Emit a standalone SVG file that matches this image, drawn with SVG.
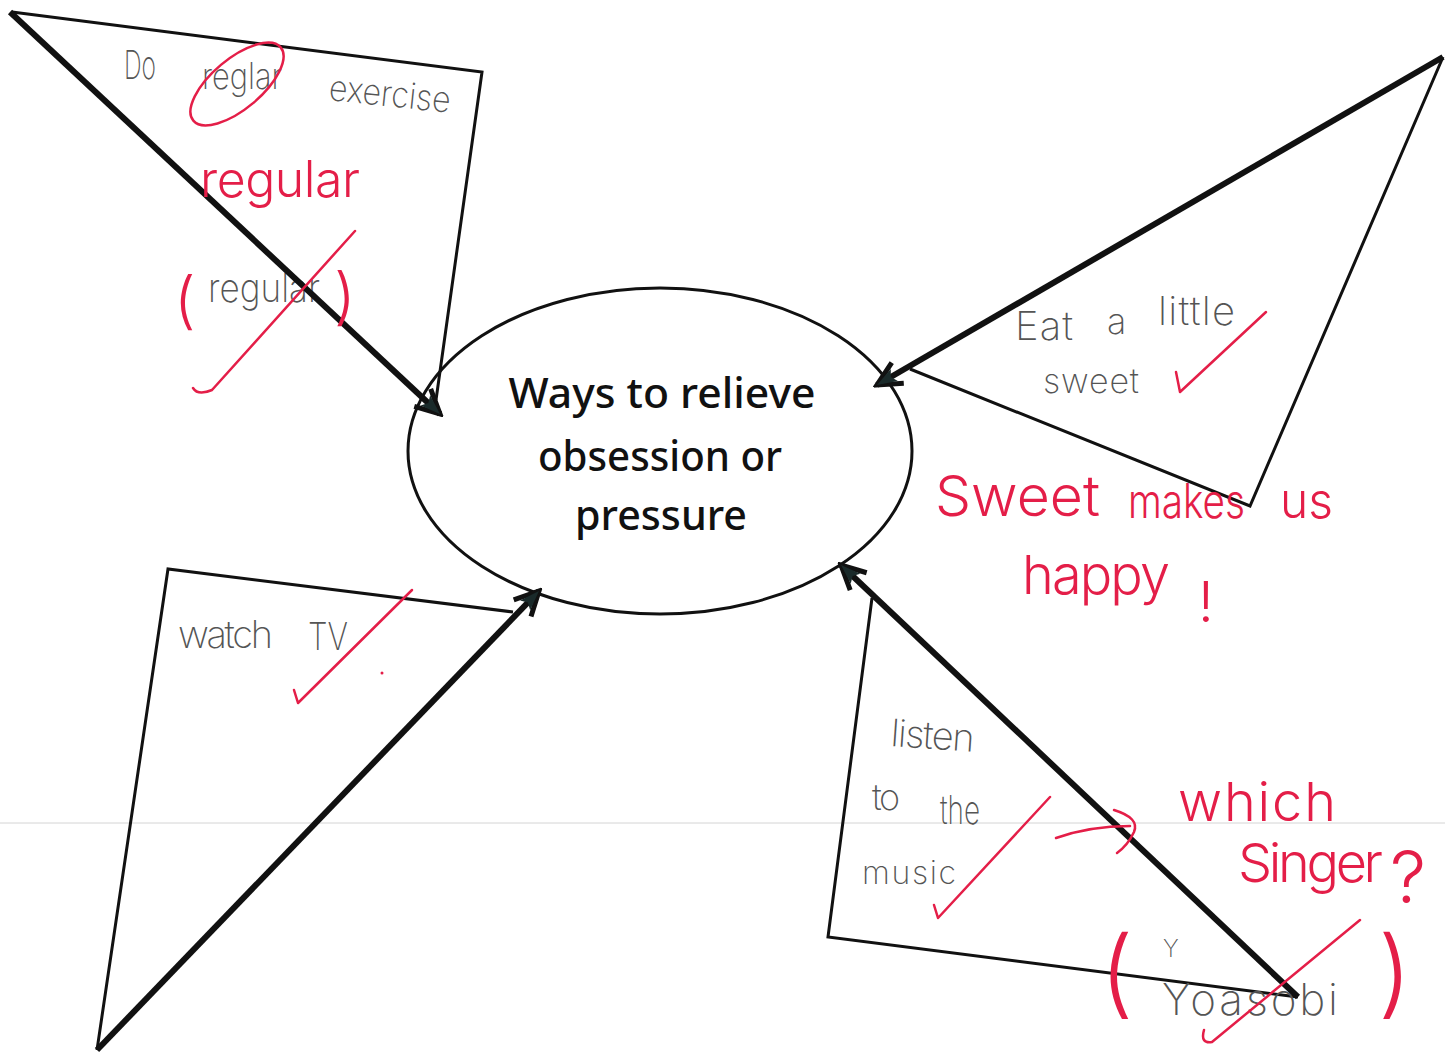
<svg xmlns="http://www.w3.org/2000/svg" width="1445" height="1054" viewBox="0 0 1445 1054">
<style>
.thin{fill:none;stroke:#111;stroke-width:3;stroke-linejoin:miter}
.thick{fill:none;stroke:#111;stroke-width:6;marker-end:url(#ah)}
.title{font-family:"Noto Sans",sans-serif;font-size:42px;font-weight:500;fill:#111;text-anchor:middle}
.pen{font-family:Inter,"Noto Sans",sans-serif;font-weight:200;fill:#555}
.red{font-family:Inter,"Noto Sans",sans-serif;font-weight:300;fill:#e41e48}
.rs{fill:none;stroke:#e41e48;stroke-width:2.5;stroke-linecap:round;stroke-linejoin:round}
</style>
<defs>
<marker id="ah" viewBox="-30 -16 34 32" refX="0" refY="0" markerWidth="34" markerHeight="32" markerUnits="userSpaceOnUse" orient="auto">
<path d="M-24,-12 L0,0 L-24,12" fill="none" stroke="#111" stroke-width="5"/>
<path d="M0,0 L-20,-7 L-16,0 L-20,7 Z" fill="#1a2a2a"/>
</marker>
</defs>
<rect width="1445" height="1054" fill="#fff"/>
<line x1="0" y1="823" x2="1445" y2="823" stroke="#d4d4d4" stroke-width="1"/>

<g id="center">
<ellipse cx="660" cy="451" rx="252" ry="163" fill="none" stroke="#111" stroke-width="3"/>
<text class="title" x="662" y="408" textLength="307" lengthAdjust="spacingAndGlyphs">Ways to relieve</text>
<text class="title" x="660" y="471" textLength="244" lengthAdjust="spacingAndGlyphs">obsession or</text>
<text class="title" x="661" y="530" textLength="172" lengthAdjust="spacingAndGlyphs">pressure</text>
</g>

<g id="node-exercise">
<polyline class="thin" points="12,12 482,72 436,400"/>
<text class="pen" x="124" y="79" font-size="40" textLength="32" lengthAdjust="spacingAndGlyphs">Do</text>
<text class="pen" x="202" y="89" font-size="36" textLength="80" lengthAdjust="spacingAndGlyphs">reglar</text>
<text class="pen" x="328" y="100" font-size="36" textLength="122" lengthAdjust="spacingAndGlyphs" transform="rotate(6 328 100)">exercise</text>
<text class="pen" x="208" y="302" font-size="40" textLength="112" lengthAdjust="spacingAndGlyphs">regular</text>
</g>

<g id="node-sweet">
<polyline class="thin" points="910,369 1250,506 1443,57"/>
<text class="pen" x="1015" y="340" font-size="40" textLength="58" lengthAdjust="spacing">Eat</text>
<text class="pen" x="1107" y="334" font-size="36">a</text>
<text class="pen" x="1158" y="325" font-size="40" textLength="77" lengthAdjust="spacing">little</text>
<text class="pen" x="1043" y="393" font-size="34" textLength="96" lengthAdjust="spacing">sweet</text>
</g>

<g id="node-tv">
<polyline class="thin" points="513,612 168,569 97,1050"/>
<text class="pen" x="178" y="648" font-size="38" textLength="95" lengthAdjust="spacing">watch</text>
<text class="pen" x="308" y="650" font-size="38" textLength="40" lengthAdjust="spacingAndGlyphs">TV</text>
</g>

<g id="node-music">
<polyline class="thin" points="872,598 828,937 1298,997"/>
<text class="pen" x="890" y="746" font-size="38" textLength="84" lengthAdjust="spacing" transform="rotate(4 890 746)">listen</text>
<text class="pen" x="872" y="810" font-size="36" textLength="28" lengthAdjust="spacing">to</text>
<text class="pen" x="940" y="824" font-size="40" textLength="40" lengthAdjust="spacingAndGlyphs">the</text>
<text class="pen" x="862" y="884" font-size="32" textLength="94" lengthAdjust="spacing">music</text>
<text class="pen" x="1162" y="1015" font-size="44" textLength="176" lengthAdjust="spacing">Yoasobi</text>
<text class="pen" x="1163" y="957" font-size="24">Y</text>
</g>

<g id="connectors">
<line class="thick" x1="10" y1="12" x2="440" y2="414"/>
<line class="thick" x1="1443" y1="57" x2="877" y2="385"/>
<line class="thick" x1="97" y1="1050" x2="539" y2="591"/>
<line class="thick" x1="1298" y1="997" x2="841" y2="565"/>
</g>

<g id="annotations">
<ellipse cx="237" cy="84" rx="57" ry="25" transform="rotate(-40 237 84)" class="rs"/>
<text class="red" x="200" y="197" font-size="50" textLength="160" lengthAdjust="spacing">regular</text>
<text class="red" x="174" y="322" font-size="62" font-weight="200">(</text>
<text class="red" x="334" y="318" font-size="62" font-weight="200">)</text>
<path class="rs" d="M193,388 Q198,396 212,390 L355,231"/>
<path class="rs" d="M1176,372 L1180,392 L1266,312"/>
<text class="red" x="935" y="516" font-size="56" textLength="165" lengthAdjust="spacingAndGlyphs">Sweet</text>
<text class="red" x="1128" y="518" font-size="48" textLength="117" lengthAdjust="spacingAndGlyphs">makes</text>
<text class="red" x="1280" y="518" font-size="50" textLength="53" lengthAdjust="spacingAndGlyphs">us</text>
<text class="red" x="1022" y="594" font-size="54" textLength="148" lengthAdjust="spacing">happy</text>
<text class="red" x="1198" y="622" font-size="56">!</text>
<path class="rs" d="M294,690 L298,703 L412,590"/>
<circle cx="382" cy="673" r="1.5" fill="#e41e48"/>
<path class="rs" d="M934,905 L938,918 L1050,797"/>
<path class="rs" d="M1056,838 Q1090,826 1130,826 M1114,810 Q1140,818 1134,832 Q1128,845 1117,853"/>
<text class="red" x="1178" y="821" font-size="54" textLength="158" lengthAdjust="spacing">which</text>
<text class="red" x="1238" y="882" font-size="54" textLength="145" lengthAdjust="spacing">Singer</text>
<text class="red" x="1390" y="903" font-size="72" font-weight="200">?</text>
<text class="red" x="1100" y="1006" font-size="96" font-weight="200">(</text>
<text class="red" x="1378" y="1006" font-size="96" font-weight="200">)</text>
<path class="rs" d="M1204,1030 Q1200,1044 1212,1042 L1360,920"/>
</g>
</svg>
